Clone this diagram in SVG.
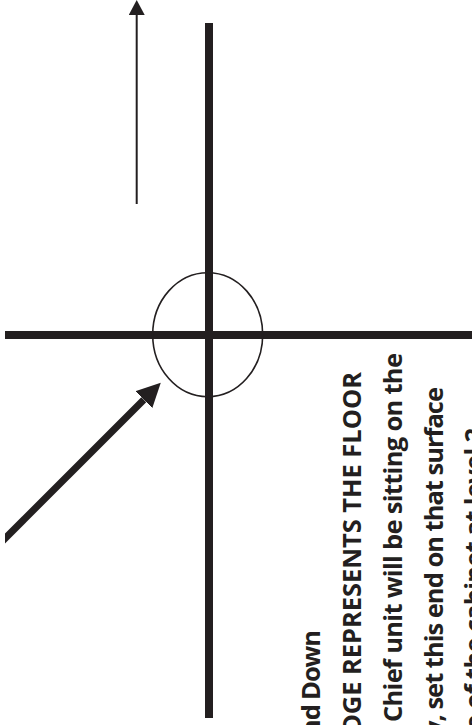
<svg xmlns="http://www.w3.org/2000/svg" width="472" height="725" viewBox="0 0 472 725">
<style>
.bar{stroke:#231f20;stroke-width:8;fill:none}
.thin{stroke:#231f20;stroke-width:1.6;fill:none}
.lbl{font-family:"Open Sans","Noto Sans","Liberation Sans",sans-serif;font-weight:700;font-size:25.5px;fill:#231f20;text-anchor:end}
</style>
<defs>
<marker id="headBig" markerUnits="userSpaceOnUse" markerWidth="24" markerHeight="24" viewBox="0 0 24 24" refX="0" refY="12" orient="auto">
<path d="M0,0 L24,12 L0,24 z" fill="#231f20"/>
</marker>
<marker id="headSmall" markerUnits="userSpaceOnUse" markerWidth="15" markerHeight="16" viewBox="0 0 15 16" refX="0" refY="8" orient="auto">
<path d="M0,0 L15,8 L0,16 z" fill="#231f20"/>
</marker>
<clipPath id="leftClip"><rect x="5" y="0" width="467" height="725"/></clipPath>
</defs>
<rect width="472" height="725" fill="#ffffff"/>
<g id="vertical-axis"><line class="bar" x1="209" y1="23" x2="209" y2="718"/></g>
<g id="horizontal-axis"><line class="bar" x1="5" y1="335" x2="472" y2="335"/></g>
<g id="circle"><ellipse class="thin" cx="207.7" cy="334.7" rx="55" ry="62"/></g>
<g id="connectors">
<line x1="136.7" y1="204" x2="136.7" y2="15" stroke="#231f20" stroke-width="2" marker-end="url(#headSmall)"/>
<line x1="0" y1="543.5" x2="143.8" y2="399.7" stroke="#231f20" stroke-width="7" marker-end="url(#headBig)" clip-path="url(#leftClip)"/>
</g>
<g id="notes">
<text class="lbl" transform="translate(320,630) rotate(-90)" textLength="106">nd Down</text>
<text class="lbl" transform="translate(361,372) rotate(-90)" textLength="361">DGE REPRESENTS THE FLOOR</text>
<text class="lbl" transform="translate(402,353) rotate(-90)" textLength="369">Chief unit will be sitting on the</text>
<text class="lbl" transform="translate(443,387) rotate(-90)" textLength="348">y, set this end on that surface</text>
<text class="lbl" transform="translate(483,428) rotate(-90)" textLength="302">o of the cabinet at level 2</text>
</g>
</svg>
